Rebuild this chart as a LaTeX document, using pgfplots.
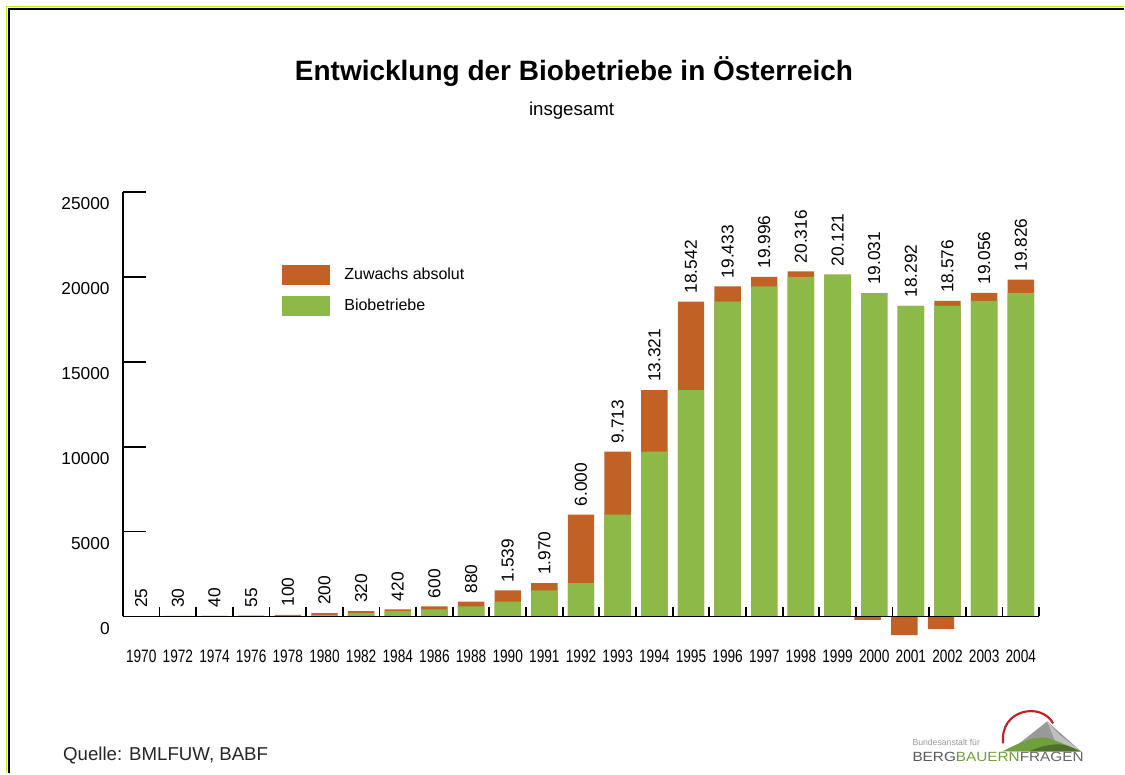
\documentclass[border=0pt]{standalone}
\usepackage{pgfplots}
\pgfplotsset{compat=1.18}
\usepackage{pgfplotstable}
\usepackage{fontspec}
\setmainfont{Liberation Sans}
\newfontfamily\narrowfont[FakeStretch=0.76]{Liberation Sans}
\newfontfamily\widefont[FakeStretch=1.15]{Liberation Sans}
\definecolor{zuw}{RGB}{193,97,38}
\definecolor{bio}{RGB}{139,186,72}
\definecolor{logogreen}{RGB}{112,160,62}
\definecolor{logored}{RGB}{190,32,40}

\pgfplotstableread{
idx year top base lab
0 1970 25 0 25
1 1972 30 25 30
2 1974 40 30 40
3 1976 55 40 55
4 1978 100 55 100
5 1980 200 100 200
6 1982 320 200 320
7 1984 420 320 420
8 1986 600 420 600
9 1988 880 600 880
10 1990 1539 880 1.539
11 1991 1970 1539 1.970
12 1992 6000 1970 6.000
13 1993 9713 6000 9.713
14 1994 13321 9713 13.321
15 1995 18542 13321 18.542
16 1996 19433 18542 19.433
17 1997 19996 19433 19.996
18 1998 20316 19996 20.316
19 1999 20121 20121 20.121
20 2000 19031 19031 19.031
21 2001 18292 18292 18.292
22 2002 18576 18292 18.576
23 2003 19056 18576 19.056
24 2004 19826 19056 19.826
}\data

\begin{document}
\begin{tikzpicture}
\begin{scope}[x=0.75pt,y=-0.75pt]
\fill[white] (0,0) rectangle (1125,774);
\draw[line width=0.6pt, color={rgb,255:red,225;green,225;blue,20}] (6.8,774) -- (6.8,6.8) -- (1125,6.8);
\draw[line width=1.4pt, black] (8.6,774) -- (8.6,8.6) -- (1125,8.6);
\node[anchor=base, inner sep=0pt, font=\fontsize{21}{25}\selectfont\bfseries] at (574.5,81) {Entwicklung der Biobetriebe in Österreich};
\node[anchor=base, inner sep=0pt, font=\fontsize{14}{16}\selectfont] at (572,116) {insgesamt};
\node[anchor=base west, inner sep=0pt, font=\fontsize{14}{17}\selectfont, text=black!85] at (63,761) {Quelle: BMLFUW, BABF};
% logo
\fill[black!40] (1010,752) -- (1048,722) -- (1082,752) -- cycle;
\fill[black!25] (1048,722) -- (1060,735) -- (1082,752) -- (1060,752) -- cycle;
\fill[logogreen] (1003,752) .. controls (1020,744) and (1035,735) .. (1050,739) .. controls (1062,743) and (1072,748) .. (1082,752) -- cycle;
\fill[logogreen!70!black] (1030,752) .. controls (1045,745) and (1060,743) .. (1070,747) -- (1082,752) -- cycle;
\draw[logored, line width=1.6pt] (1004,744) .. controls (1000,710) and (1042,702) .. (1054,724);
\node[anchor=base west, inner sep=0pt, font=\fontsize{6.5}{7}\selectfont, text=black!40] at (913,746) {Bundesanstalt für};
\node[anchor=base west, inner sep=0pt, font=\widefont\fontsize{10}{12}\selectfont] at (913,762) {\textcolor{black!65}{BERG}\textcolor{logogreen}{BAUERN}\textcolor{black!60}{FRAGEN}};
\end{scope}
\begin{axis}[
  at={(92.25pt,-462.75pt)}, anchor=south west,
  scale only axis, width=687.75pt, height=318.75pt,
  xmin=-0.5, xmax=24.5, ymin=0, ymax=25000,
  clip=false, axis on top,
  ybar, bar width=0.72,
  axis x line*=bottom, axis y line*=left,
  axis line style={line width=1.4pt, black},
  tick align=inside,
  tick style={line width=1.4pt, black},
  major tick length=17pt, minor tick length=7.5pt,
  xtick={0,...,24},
  xticklabels={1970,1972,1974,1976,1978,1980,1982,1984,1986,1988,1990,1991,1992,1993,1994,1995,1996,1997,1998,1999,2000,2001,2002,2003,2004},
  minor xtick={-0.5,0.5,...,24.5},
  every major x tick/.append style={draw=none},
  xticklabel style={font=\narrowfont\fontsize{13.5}{15}\selectfont, inner sep=0pt, anchor=north, yshift=-25pt},
  ytick={0,5000,...,25000}, scaled y ticks=false,
  /pgf/number format/assume math mode=true,
  yticklabel style={/pgf/number format/set thousands separator={}, font=\fontsize{13}{15}\selectfont, inner xsep=0pt, xshift=-9.75pt, yshift=-9pt},
  legend style={draw=none, fill=none, at={(0.1734,0.828)}, anchor=north west, font=\fontsize{12}{14}\selectfont, row sep=8pt, inner sep=0pt, outer sep=0pt, /tikz/every odd column/.append style={column sep=9pt}},
  legend cell align=left,
  legend image code/.code={\fill[#1] (0pt,-7.5pt) rectangle (36pt,7.5pt);},
]
\addplot[fill=zuw, draw=none, bar shift=0pt, nodes near coords, point meta=explicit symbolic,
  every node near coord/.append style={rotate=90, anchor=west, font=\fontsize{13}{15}\selectfont, inner sep=0pt, inner xsep=6pt, text=black}]
  table[x=idx, y=top, meta=lab] {\data};
\addlegendentry{Zuwachs absolut}
\addplot[fill=bio, draw=none, bar shift=0pt] table[x=idx, y=base] {\data};
\addlegendentry{Biobetriebe}
\addplot[fill=zuw, draw=none, bar shift=-4.9pt, forget plot] coordinates {(20,-195) (21,-1090) (22,-739)};
\end{axis}
\end{tikzpicture}
\end{document}
